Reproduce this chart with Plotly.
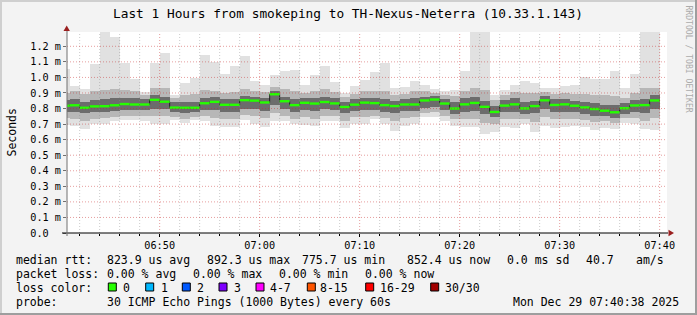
import plotly.graph_objects as go
import pandas as pd

# ---------------- data (milliseconds) ----------------
median_ms = [0.818, 0.821, 0.805, 0.814, 0.815, 0.821, 0.829, 0.826, 0.826, 0.856,
             0.844, 0.806, 0.805, 0.805, 0.834, 0.843, 0.824, 0.824, 0.854, 0.851,
             0.839, 0.892, 0.847, 0.822, 0.837, 0.832, 0.842, 0.833, 0.810, 0.825,
             0.838, 0.835, 0.822, 0.816, 0.826, 0.826, 0.852, 0.858, 0.832, 0.800,
             0.827, 0.836, 0.811, 0.778, 0.819, 0.827, 0.801, 0.816, 0.853, 0.823,
             0.827, 0.818, 0.807, 0.797, 0.786, 0.776, 0.802, 0.820, 0.822, 0.852]
max_ms = [1.055, 0.945, 0.926, 1.087, 1.350, 1.257, 1.095, 0.991, 0.907, 1.095,
          1.159, 0.885, 0.962, 0.997, 1.144, 1.102, 1.022, 1.074, 1.138, 0.979,
          0.953, 1.015, 1.042, 1.048, 0.952, 1.015, 1.075, 0.972, 0.899, 0.946,
          0.985, 1.037, 1.095, 0.930, 0.940, 0.979, 0.952, 0.924, 0.915, 0.922,
          1.043, 1.350, 1.350, 0.887, 0.920, 0.952, 0.979, 0.967, 0.933, 0.930,
          0.945, 0.952, 1.000, 0.990, 0.990, 1.043, 0.932, 1.022, 1.350, 1.350]
min_ms = [0.695, 0.690, 0.671, 0.698, 0.703, 0.720, 0.725, 0.726, 0.723, 0.701,
          0.700, 0.727, 0.706, 0.724, 0.723, 0.690, 0.680, 0.684, 0.724, 0.701,
          0.684, 0.720, 0.720, 0.700, 0.695, 0.689, 0.722, 0.717, 0.672, 0.702,
          0.700, 0.732, 0.700, 0.653, 0.691, 0.700, 0.748, 0.745, 0.717, 0.685,
          0.683, 0.681, 0.635, 0.652, 0.680, 0.674, 0.700, 0.652, 0.685, 0.678,
          0.683, 0.689, 0.679, 0.663, 0.678, 0.670, 0.706, 0.702, 0.669, 0.659]
p10_ms = [0.740, 0.735, 0.720, 0.735, 0.740, 0.745, 0.750, 0.750, 0.755, 0.755,
          0.750, 0.745, 0.735, 0.745, 0.750, 0.740, 0.730, 0.730, 0.760, 0.750,
          0.740, 0.770, 0.755, 0.735, 0.745, 0.735, 0.755, 0.750, 0.720, 0.745,
          0.745, 0.755, 0.740, 0.720, 0.740, 0.745, 0.770, 0.775, 0.750, 0.730,
          0.735, 0.735, 0.710, 0.700, 0.730, 0.735, 0.730, 0.715, 0.745, 0.730,
          0.735, 0.735, 0.725, 0.715, 0.720, 0.710, 0.740, 0.740, 0.720, 0.740]
p25_ms = [0.780, 0.780, 0.770, 0.775, 0.780, 0.785, 0.790, 0.790, 0.790, 0.800,
          0.795, 0.775, 0.770, 0.775, 0.790, 0.790, 0.780, 0.780, 0.800, 0.795,
          0.785, 0.820, 0.795, 0.775, 0.790, 0.785, 0.795, 0.790, 0.770, 0.785,
          0.790, 0.790, 0.780, 0.770, 0.785, 0.785, 0.805, 0.810, 0.790, 0.765,
          0.780, 0.785, 0.765, 0.745, 0.775, 0.780, 0.765, 0.770, 0.800, 0.775,
          0.780, 0.775, 0.765, 0.755, 0.750, 0.740, 0.765, 0.775, 0.770, 0.795]
p75_ms = [0.855, 0.860, 0.845, 0.855, 0.860, 0.865, 0.870, 0.865, 0.860, 0.885,
          0.875, 0.840, 0.845, 0.845, 0.870, 0.875, 0.860, 0.860, 0.880, 0.875,
          0.870, 0.910, 0.875, 0.860, 0.865, 0.865, 0.875, 0.865, 0.845, 0.860,
          0.870, 0.865, 0.860, 0.850, 0.860, 0.865, 0.875, 0.880, 0.860, 0.840,
          0.865, 0.875, 0.850, 0.815, 0.855, 0.865, 0.840, 0.850, 0.880, 0.860,
          0.860, 0.850, 0.845, 0.835, 0.825, 0.820, 0.835, 0.855, 0.860, 0.885]
p90_ms = [0.900, 0.910, 0.895, 0.915, 0.920, 0.925, 0.920, 0.915, 0.890, 0.935,
          0.930, 0.870, 0.890, 0.895, 0.920, 0.915, 0.900, 0.905, 0.925, 0.910,
          0.905, 0.940, 0.925, 0.910, 0.900, 0.910, 0.925, 0.905, 0.875, 0.895,
          0.910, 0.910, 0.915, 0.885, 0.895, 0.910, 0.910, 0.900, 0.890, 0.880,
          0.910, 0.935, 0.920, 0.855, 0.890, 0.905, 0.900, 0.900, 0.905, 0.895,
          0.900, 0.895, 0.895, 0.885, 0.885, 0.880, 0.870, 0.900, 0.930, 0.935]

y_tick_vals_ms = [0.0, 0.1, 0.2, 0.3, 0.4, 0.5, 0.6, 0.7, 0.8, 0.9, 1.0, 1.1, 1.2]
y_tick_text = ["0.0\u00a0\u00a0", "0.1 m", "0.2 m", "0.3 m", "0.4 m", "0.5 m", "0.6 m",
               "0.7 m", "0.8 m", "0.9 m", "1.0 m", "1.1 m", "1.2 m"]

title_text = "Last 1 Hours from smokeping to TH-Nexus-Neterra (10.33.1.143)"
legend_rows = [
    [(16, "median rtt:"), (107.3, "823.9 us avg"), (207.3, "892.3 us max"),
     (301.7, "775.7 us min"), (407.3, "852.4 us now"), (507.3, "0.0 ms sd"),
     (586, "40.7"), (635.7, "am/s")],
    [(16, "packet loss:"), (107.3, "0.00 % avg"), (193.3, "0.00 % max"),
     (279.3, "0.00 % min"), (365, "0.00 % now")],
    [(16, "loss color:")],
    [(16, "probe:"), (107.3, "30 ICMP Echo Pings (1000 Bytes) every 60s"),
     (513.3, "Mon Dec 29 07:40:38 2025")],
]
loss_labels = ["0", "1", "2", "3", "4-7", "8-15", "16-29", "30/30"]
loss_colors = ["#26ff00", "#00b8ff", "#0059ff", "#7e00ff", "#ff00ff", "#ff5500", "#ff0000", "#a10000"]
loss_box_x = [108.3, 145.7, 182.3, 219, 256, 307.3, 365.7, 430.7]
loss_text_x = [123.3, 160.7, 197.3, 234.3, 270, 320, 380, 445]

# ---------------- geometry helpers ----------------
W, H = 697, 315
L, R, T, B = 67, 667, 32, 233
def px(x):
    return (x - L) / (R - L)
def py(y):
    return (B - y) / (B - T)

centers = pd.date_range("2025-12-29 06:40:30", periods=len(median_ms), freq="60s")
starts = pd.date_range("2025-12-29 06:40:00", periods=len(median_ms) + 1, freq="60s")
S = 1e-3

fig = go.Figure()

def band(lo, hi, color):
    fig.add_trace(go.Bar(
        x=centers, y=[(h - l) * S for l, h in zip(lo, hi)], base=[l * S for l in lo],
        width=60000, marker=dict(color=color, line=dict(width=0)), opacity=1,
        hoverinfo="skip", showlegend=False))

band(min_ms, max_ms, "#e1e1e1")
band(p10_ms, p90_ms, "#b7b7b7")
band(p25_ms, p75_ms, "#6c6c6c")

# median dark line (steps)
fig.add_trace(go.Scatter(
    x=starts, y=[m * S for m in median_ms] + [median_ms[-1] * S],
    mode="lines", line=dict(color="#202020", width=1, shape="hv"),
    hoverinfo="skip", showlegend=False))

# green median segments (0 % loss), drawn on top of the dark line
gx, gy = [], []
for i, m in enumerate(median_ms):
    gx += [starts[i], starts[i + 1], None]
    gy += [m * S, m * S, None]
fig.add_trace(go.Scatter(
    x=gx, y=gy, mode="lines", line=dict(color="#26ff00", width=2.4),
    connectgaps=False, hoverinfo="skip", showlegend=False))

GRID_MINOR = "rgba(140,140,140,0.45)"
GRID_MAJOR = "rgba(200,40,40,0.45)"
shapes = []
# grid lines (semi-transparent, drawn above the smoke like rrdtool)
for t in pd.date_range("2025-12-29 06:42", "2025-12-29 07:40", freq="120s"):
    major = (t.minute % 10 == 0)
    shapes.append(dict(type="line", xref="x", yref="paper", x0=t, x1=t, y0=0, y1=1,
                       line=dict(color=GRID_MAJOR if major else GRID_MINOR, width=1, dash="1px,2px"),
                       layer="above"))
for v in y_tick_vals_ms[1:]:
    shapes.append(dict(type="line", xref="paper", yref="y", x0=0, x1=1, y0=v * S, y1=v * S,
                       line=dict(color=GRID_MAJOR, width=1, dash="1px,2px"), layer="above"))

# axis extension and arrows
shapes.append(dict(type="line", xref="paper", yref="paper", x0=px(62), x1=px(668), y0=0, y1=0,
                   line=dict(color="#000000", width=1), layer="above"))
shapes.append(dict(type="line", xref="paper", yref="paper", x0=0, x1=0, y0=py(236), y1=py(30),
                   line=dict(color="#707070", width=1), layer="above"))
shapes.append(dict(type="path", xref="paper", yref="paper",
                   path=f"M {px(63.5)} {py(31)} L {px(66.7)} {py(25.5)} L {px(69.9)} {py(31)} Z",
                   fillcolor="#9a1f1f", line=dict(width=0), layer="above"))
shapes.append(dict(type="path", xref="paper", yref="paper",
                   path=f"M {px(668.5)} {py(229.8)} L {px(674)} {py(233)} L {px(668.5)} {py(236.2)} Z",
                   fillcolor="#9a1f1f", line=dict(width=0), layer="above"))

# frame
shapes.append(dict(type="rect", xref="paper", yref="paper", x0=px(0), x1=px(W), y0=py(0), y1=py(2),
                   fillcolor="#cfcfcf", line=dict(width=0), layer="above"))
shapes.append(dict(type="rect", xref="paper", yref="paper", x0=px(0), x1=px(2), y0=py(0), y1=py(H),
                   fillcolor="#cfcfcf", line=dict(width=0), layer="above"))
shapes.append(dict(type="rect", xref="paper", yref="paper", x0=px(0), x1=px(W), y0=py(H - 2), y1=py(H),
                   fillcolor="#9e9e9e", line=dict(width=0), layer="above"))
shapes.append(dict(type="rect", xref="paper", yref="paper", x0=px(W - 2), x1=px(W), y0=py(0), y1=py(H),
                   fillcolor="#9e9e9e", line=dict(width=0), layer="above"))

# loss colour boxes
for bx, c in zip(loss_box_x, loss_colors):
    shapes.append(dict(type="rect", xref="paper", yref="paper", x0=px(bx), x1=px(bx + 8),
                       y0=py(291), y1=py(283), fillcolor=c, line=dict(color="#000000", width=1),
                       layer="above"))

annotations = []
FONT = "DejaVu Sans Mono"
row_y = [260.3, 274.3, 288.3, 302.3]
for ry, row in zip(row_y, legend_rows):
    for x, txt in row:
        annotations.append(dict(text=txt, xref="paper", yref="paper", x=px(x), y=py(ry),
                                xanchor="left", yanchor="middle", showarrow=False,
                                borderpad=0, borderwidth=0,
                                font=dict(family=FONT, size=11.5, color="#000000")))
for x, txt in zip(loss_text_x, loss_labels):
    annotations.append(dict(text=txt, xref="paper", yref="paper", x=px(x), y=py(row_y[2]),
                            xanchor="left", yanchor="middle", showarrow=False,
                            borderpad=0, borderwidth=0,
                            font=dict(family=FONT, size=11.5, color="#000000")))
# y-axis title
annotations.append(dict(text="Seconds", xref="paper", yref="paper", x=px(11), y=py(132.5),
                        xanchor="center", yanchor="middle", textangle=-90, showarrow=False,
                        font=dict(family=FONT, size=11.5, color="#000000")))
# watermark
annotations.append(dict(text="RRDTOOL / TOBI OETIKER", xref="paper", yref="paper",
                        x=px(689), y=py(58.5), xanchor="center", yanchor="middle",
                        textangle=90, showarrow=False,
                        font=dict(family=FONT, size=8.1, color="#ababab")))
# title
annotations.append(dict(text=title_text, xref="paper", yref="paper", x=px(348), y=py(14),
                        xanchor="center", yanchor="middle", showarrow=False,
                        font=dict(family=FONT, size=12.8, color="#000000")))

fig.update_layout(
    width=W, height=H,
    margin=dict(l=L, r=W - R, t=T, b=H - B, pad=0),
    paper_bgcolor="#f3f3f3", plot_bgcolor="#ffffff",
    barmode="overlay", bargap=0, showlegend=False,
    font=dict(family=FONT, size=10.2, color="#000000"),
    shapes=shapes, annotations=annotations,
    xaxis=dict(type="date", range=["2025-12-29 06:40:44", "2025-12-29 07:40:44"],
               tickformat="%H:%M", dtick=600000, tick0="2025-12-29 06:50:00",
               showgrid=False, zeroline=False, showline=False,
               ticks="outside", ticklen=3, tickcolor="#000000",
               minor=dict(dtick=120000, tick0="2025-12-29 06:42:00", ticks="outside",
                          ticklen=2, tickcolor="#000000", showgrid=False),
               tickfont=dict(family=FONT, size=10.2, color="#000000")),
    yaxis=dict(range=[0, 1.292e-3], tickmode="array",
               tickvals=[v * S for v in y_tick_vals_ms], ticktext=y_tick_text,
               showgrid=False, zeroline=False, showline=False,
               ticks="outside", ticklen=3, tickcolor="#707070",
               tickfont=dict(family=FONT, size=10.2, color="#000000")),
)

fig.write_html("out.html")
